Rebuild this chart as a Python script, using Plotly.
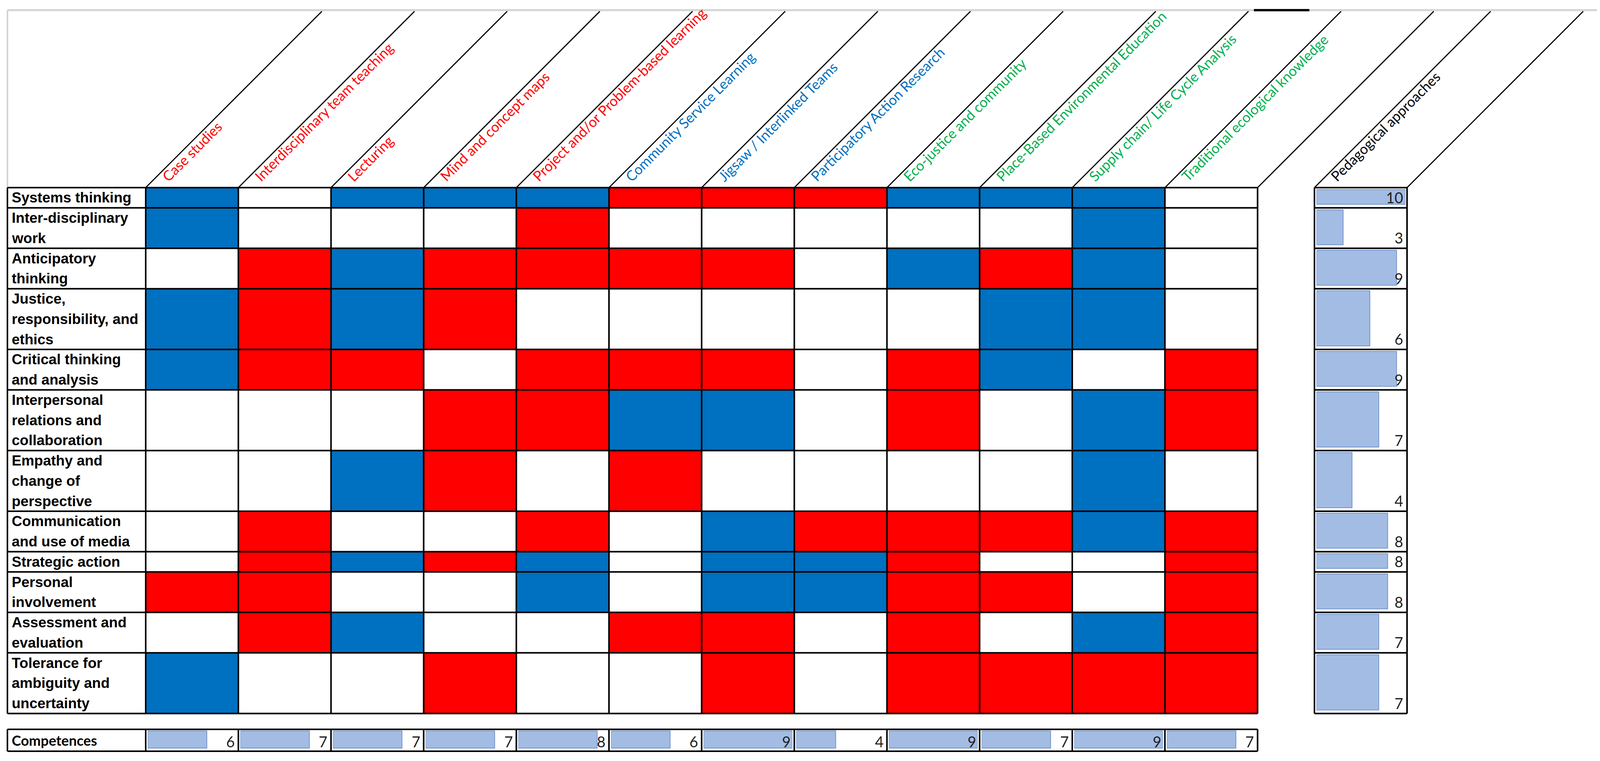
import plotly.graph_objects as go

# columns: pedagogical approaches, with the colour group of their header text
approaches = ["Case studies", "Interdisciplinary team teaching", "Lecturing", "Mind and concept maps",
              "Project and/or Problem-based learning", "Community Service Learning",
              "Jigsaw / Interlinked Teams", "Participatory Action Research", "Eco-justice and community",
              "Place-Based Environmental Education", "Supply chain/ Life Cycle Analysis",
              "Traditional ecological knowledge"]
approach_group = ["red", "red", "red", "red", "red", "blue", "blue", "blue",
                  "green", "green", "green", "green"]

# rows: competences (<br> = line break in the cell)
competences = ["Systems thinking", "Inter-disciplinary<br>work", "Anticipatory<br>thinking",
               "Justice,<br>responsibility, and<br>ethics", "Critical thinking<br>and analysis",
               "Interpersonal<br>relations and<br>collaboration", "Empathy and<br>change of<br>perspective",
               "Communication<br>and use of media", "Strategic action", "Personal<br>involvement",
               "Assessment and<br>evaluation", "Tolerance for<br>ambiguity and<br>uncertainty"]

# cell colour per competence x approach: B = blue, R = red, W = empty
links = ["BWBBBRRRBBBW",
         "BWWWRWWWWWBW",
         "WRBRRRRWBRBW",
         "BRBRWWWWWBBW",
         "BRRWRRRWRBWR",
         "WWWRRBBWRWBR",
         "WWBRWRWWWWBW",
         "WRWWRWBRRRBR",
         "WRBRBWBBRWWR",
         "RRWWBWBBRRWR",
         "WRBWWRRWRWBR",
         "BWWRWWRWRRRR"]

# data bars: approaches per competence (right) and competences per approach (bottom)
competence_counts = [10, 3, 9, 6, 9, 7, 4, 8, 8, 8, 7, 7]
approach_counts = [6, 7, 7, 7, 8, 6, 9, 4, 9, 7, 9, 7]

W, H = 4110, 1947
OFF = 8  # page margin of the html body
LEFT, LABEL_R, COL_W = 19, 373, 237.2
TOP, LINE_H = 480, 51.75
HEAD_TOP = 29
PED_L, PED_R = 3365, 3602
COMP_T, COMP_B = 1866, 1922
LW = 4
CELL_COL = {"W": "white", "B": "#0070C0", "R": "#FF0000"}
TEXT_COL = {"red": "#FF0000", "blue": "#0070C0", "green": "#00B050"}
BAR, BAR_EDGE = "#A3BCE3", "#7294CB"
HEAD_FONT = "Lato"
LABEL_FONT = "Liberation Sans"

col_edges = [LABEL_R + i * COL_W for i in range(len(approaches) + 1)]
col_mid = [e + COL_W / 2 for e in col_edges[:-1]]
row_edges = [TOP]
for c in competences:
    row_edges.append(row_edges[-1] + (c.count("<br>") + 1) * LINE_H)
BOTTOM = row_edges[-1]
row_mid = [(a + b) / 2 for a, b in zip(row_edges[:-1], row_edges[1:])]
row_h = [b - a for a, b in zip(row_edges[:-1], row_edges[1:])]


def dom(x):
    return (x - OFF) / W


fig = go.Figure()

# matrix cells: one bar per competence/approach pair
cx, ch, cb, cc = [], [], [], []
for i, r in enumerate(links):
    for j, c in enumerate(r):
        cx.append(col_mid[j])
        ch.append(row_h[i])
        cb.append(row_edges[i])
        cc.append(CELL_COL[c])
fig.add_trace(go.Bar(x=cx, y=ch, base=cb, width=COL_W, hoverinfo="skip",
                     marker=dict(color=cc, line=dict(width=0))))

# right column data bars
fig.add_trace(go.Bar(x=competence_counts, y=[m - 2 for m in row_mid], width=[h - 14 for h in row_h],
                     orientation="h", xaxis="x2", yaxis="y", hoverinfo="skip",
                     marker=dict(color=BAR, line=dict(color=BAR_EDGE, width=2))))
axes = {"xaxis2": dict(domain=[dom(PED_L + 5), dom(PED_R - 4)], range=[0, max(competence_counts)],
                       anchor="y", visible=False, fixedrange=True)}

# bottom row data bars, one small axis per approach column
for j, v in enumerate(approach_counts):
    name = "x%d" % (j + 3)
    fig.add_trace(go.Bar(x=[v], y=[(COMP_T + COMP_B) / 2 - 2], width=[COMP_B - COMP_T - 12],
                         orientation="h", xaxis=name, yaxis="y", hoverinfo="skip",
                         marker=dict(color=BAR, line=dict(color=BAR_EDGE, width=2))))
    axes["xaxis%d" % (j + 3)] = dict(domain=[dom(col_edges[j] + 5), dom(col_edges[j + 1] - 5)],
                                     range=[0, max(approach_counts)], anchor="y", visible=False,
                                     fixedrange=True)

shapes = []


def seg(x0, y0, x1, y1, color="black", width=LW):
    shapes.append(dict(type="line", xref="x", yref="y", x0=x0, y0=y0, x1=x1, y1=y1,
                       line=dict(color=color, width=width)))


# light frame of the header
seg(LEFT, 26, W + OFF, 26, "#D3D3D3", 5)
seg(LEFT, 26, LEFT, TOP, "#D3D3D3", 4)
seg(3210, 26, 3352, 26, "black", 6)

# table grid
for y in row_edges:
    seg(LEFT, y, col_edges[-1], y)
    seg(PED_L, y, PED_R, y)
for x in [LEFT] + col_edges:
    seg(x, TOP, x, BOTTOM)
for x in (PED_L, PED_R):
    seg(x, TOP, x, BOTTOM)

# competences row
seg(LEFT, COMP_T, col_edges[-1], COMP_T)
seg(LEFT, COMP_B, col_edges[-1], COMP_B)
for x in [LEFT] + col_edges:
    seg(x, COMP_T, x, COMP_B)

# slanted header borders
for x in col_edges + [PED_L, PED_R]:
    seg(x, TOP, x + (TOP - HEAD_TOP), HEAD_TOP, "black", 3)

ann = []
for j, name in enumerate(approaches):
    ann.append(dict(x=col_edges[j] + 30, y=TOP - 5, xref="x", yref="y", text=name, textangle=-45,
                    xanchor="left", yanchor="bottom", showarrow=False,
                    font=dict(family=HEAD_FONT, size=36, color=TEXT_COL[approach_group[j]])))
ann.append(dict(x=PED_L + 30, y=TOP - 5, xref="x", yref="y", text="Pedagogical approaches", textangle=-45,
                xanchor="left", yanchor="bottom", showarrow=False,
                font=dict(family=HEAD_FONT, size=36, color="black")))

for i, label in enumerate(competences):
    for k, line in enumerate(label.split("<br>")):
        ann.append(dict(x=LEFT + 9, y=row_edges[i] + (k + 0.5) * LINE_H, xref="x", yref="y", text=line,
                        xanchor="left", yanchor="middle", showarrow=False,
                        font=dict(family=LABEL_FONT, size=37, color="black", weight="bold")))
    ann.append(dict(x=PED_R - 8, y=row_edges[i + 1] - 2, xref="x", yref="y", text=str(competence_counts[i]),
                    xanchor="right", yanchor="bottom", showarrow=False,
                    font=dict(family=HEAD_FONT, size=38, color="#1F1F1F")))

ann.append(dict(x=LEFT + 9, y=(COMP_T + COMP_B) / 2, xref="x", yref="y", text="Competences",
                xanchor="left", yanchor="middle", showarrow=False,
                font=dict(family=HEAD_FONT, size=36, color="black", weight="bold")))
for j, v in enumerate(approach_counts):
    ann.append(dict(x=col_edges[j + 1] - 7, y=COMP_B, xref="x", yref="y", text=str(v),
                    xanchor="right", yanchor="bottom", showarrow=False,
                    font=dict(family=HEAD_FONT, size=38, color="#1F1F1F")))

# transparent plot area, otherwise the small bar subplots paint over the matrix
fig.update_layout(width=W, height=H, margin=dict(l=0, r=0, t=0, b=0),
                  paper_bgcolor="white", plot_bgcolor="rgba(0,0,0,0)", showlegend=False,
                  xaxis=dict(range=[OFF, W + OFF], visible=False, fixedrange=True),
                  yaxis=dict(range=[H + OFF, OFF], visible=False, fixedrange=True),
                  shapes=shapes, annotations=ann, **axes)
fig.write_html("out.html")
